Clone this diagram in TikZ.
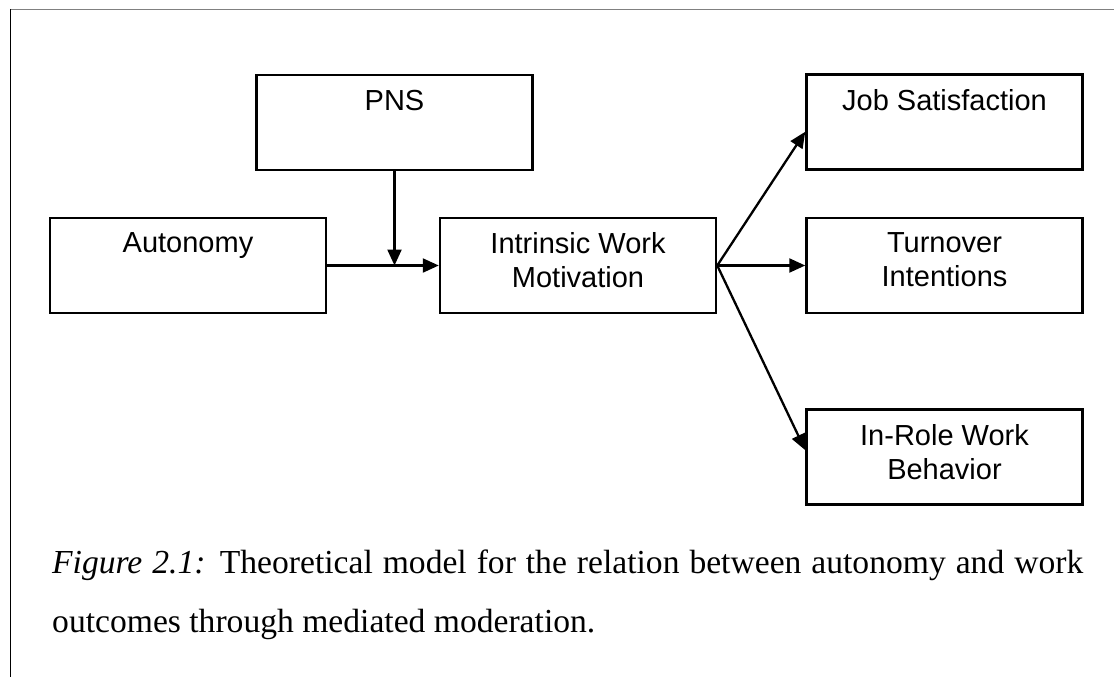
\documentclass[tikz,border=0pt]{standalone}
\usepackage{fontspec}
\setmainfont{Liberation Serif}
\newfontfamily\boxfont{Liberation Sans}
\usetikzlibrary{arrows.meta,calc}
\begin{document}
\begin{tikzpicture}[x=1pt,y=-1pt,
  box/.style={draw=black, line width=2.5pt, minimum width=276pt, minimum height=95pt, inner sep=0pt},
  lbl/.style={font=\boxfont\fontsize{29}{34}\selectfont, align=center, inner sep=0pt, anchor=north},
  conn/.style={draw=black, line width=2.3pt, -{Triangle[length=16pt,width=14pt]}},
  capt/.style={anchor=north west, inner sep=0pt, text width=1031pt, align=justify, font=\fontsize{33.6}{59}\selectfont}]
\useasboundingbox (0,0) rectangle (1114,677);
% frame
\draw[color={rgb,255:red,128;green,128;blue,128}, line width=1.5pt] (10,9.5) -- (1114,9.5);
\draw[black, line width=1.5pt] (10.5,9) -- (10.5,677);
% boxes
\node[box] (pns) at (394.5,122.5) {};
\node[box] (aut) at (188,265.5) {};
\node[box] (iwm) at (578,265.5) {};
\node[box] (js)  at (944.5,122) {};
\node[box] (ti)  at (944.5,265.5) {};
\node[box] (ir)  at (944.5,457) {};
% labels
\node[lbl] (tpns) at ($(pns.north)+(0,16)$) {PNS};
\node[lbl] (taut) at ($(aut.north)+(0,16)$) {Autonomy};
\node[lbl] (tiwm) at ($(iwm.north)+(0,16)$) {Intrinsic Work\\Motivation};
\node[lbl] (tjs)  at ($(js.north)+(0,16)$) {Job Satisfaction};
\node[lbl] (tti)  at ($(ti.north)+(0,16)$) {Turnover\\Intentions};
\node[lbl] (tir)  at ($(ir.north)+(0,16)$) {In-Role Work\\Behavior};
% connectors
\coordinate (j) at (pns.south |- aut.east);
\draw[conn] (aut.east) -- (iwm.west);
\draw[conn] (pns.south) -- (j);
\draw[conn] (iwm.east) -- ($(js.south west)!0.4!(js.north west)$);
\draw[conn] (iwm.east) -- (ti.west);
\draw[conn] (iwm.east) -- ($(ir.north west)!0.43!(ir.south west)$);
% caption
\node[capt] (cap) at (52,550) {\textit{Figure 2.1:} Theoretical model for the relation between autonomy and work\linebreak outcomes through mediated moderation.};
\end{tikzpicture}
\end{document}
